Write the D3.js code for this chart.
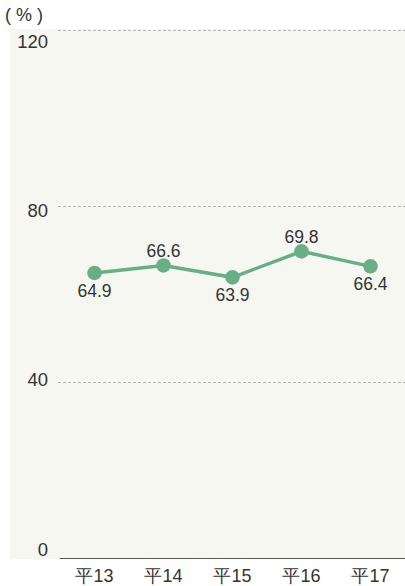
<!DOCTYPE html>
<html><head><meta charset="utf-8">
<script src="https://cdn.jsdelivr.net/npm/d3@7"></script>
<style>body{margin:0;background:#fff}svg{display:block}text{font-family:"Liberation Sans",Arial,sans-serif;fill:#333}</style>
</head><body>
<script>
const categories = ["平13","平14","平15","平16","平17"];
const values = [64.9, 66.6, 63.9, 69.8, 66.4];
const labelSide = ["below","above","below","above","below"];
const yTicks = [0, 40, 80, 120];

const W = 405, H = 586;
const svg = d3.select("body").append("svg").attr("width", W).attr("height", H);
const x = d3.scaleBand().domain(categories).range([60, 405]);
const y = d3.scaleLinear().domain([0, 120]).range([558.5, 30.5]);
const yLab = d3.scaleLinear().domain([0, 120]).range([549, 41]);

svg.append("rect").attr("x", 10).attr("y", 29).attr("width", W - 10).attr("height", 530).attr("fill", "#f7f7f2");

svg.selectAll("line.grid").data(yTicks.filter(d => d > 0)).enter().append("line")
  .attr("x1", 58).attr("x2", W).attr("y1", d => y(d)).attr("y2", d => y(d))
  .attr("stroke", "#b5b5b5").attr("stroke-width", 1).attr("stroke-dasharray", "3,2");

svg.append("line").attr("x1", 60).attr("x2", W).attr("y1", y(0)).attr("y2", y(0))
  .attr("stroke", "#555").attr("stroke-width", 1.2);

svg.selectAll("text.yl").data(yTicks).enter().append("text")
  .attr("x", 48).attr("y", d => yLab(d)).attr("dy", "0.36em")
  .attr("text-anchor", "end").attr("font-size", 18.5).text(d => d);

svg.append("text").attr("x", 5).attr("y", 21).attr("font-size", 18).attr("xml:space", "preserve").text("( % )");

const xAxis = svg.append("g").attr("transform", `translate(0,${y(0)})`)
  .call(d3.axisBottom(x).tickSize(0).tickPadding(8));
xAxis.select(".domain").remove();
xAxis.selectAll("text").attr("font-size", 18).attr("fill", "#333").attr("dy", "0.85em")
  .style("font-family", '"Liberation Sans",Arial,sans-serif');

const cx = d => x(d) + x.bandwidth() / 2;
const line = d3.line().x((d, i) => cx(categories[i])).y(d => y(d));
svg.append("path").datum(values).attr("d", line).attr("fill", "none")
  .attr("stroke", "#6aae88").attr("stroke-width", 3.5);
svg.selectAll("circle").data(values).enter().append("circle")
  .attr("cx", (d, i) => cx(categories[i])).attr("cy", d => y(d)).attr("r", 7.3).attr("fill", "#6aae88");
svg.selectAll("text.dl").data(values).enter().append("text")
  .attr("x", (d, i) => cx(categories[i]))
  .attr("y", (d, i) => y(d) + (labelSide[i] === "above" ? -15 : 17.5))
  .attr("dy", "0.36em").attr("text-anchor", "middle").attr("font-size", 17.5)
  .text(d => d.toFixed(1));
</script>
</body></html>
